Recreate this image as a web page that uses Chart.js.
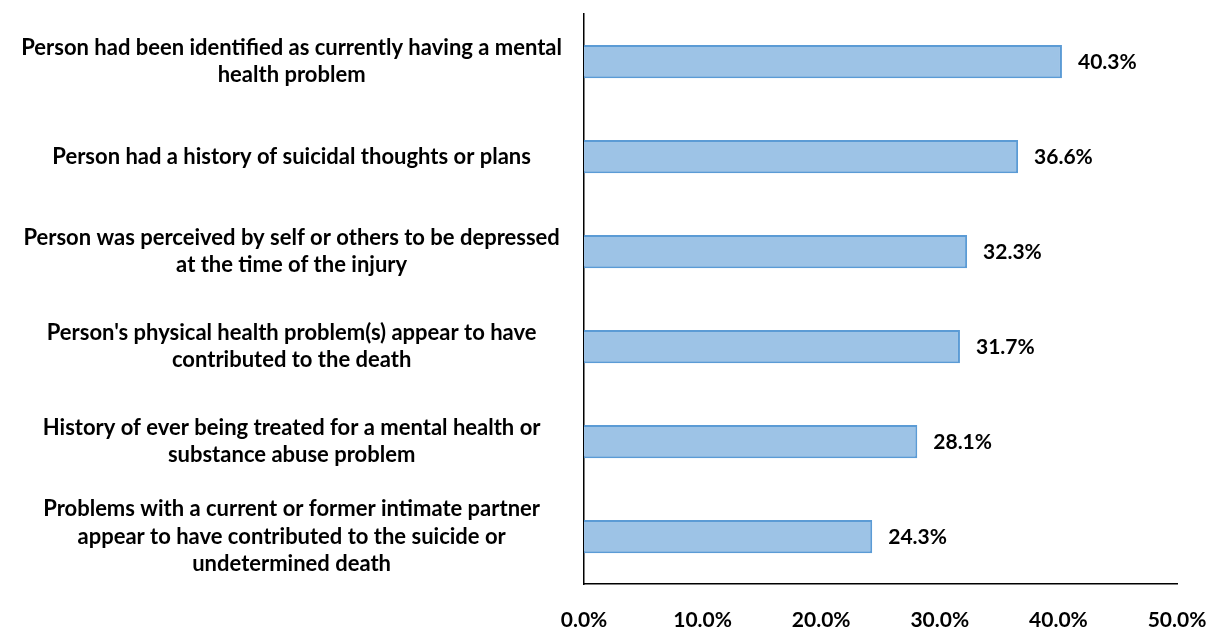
<!DOCTYPE html>
<html>
<head>
<meta charset="utf-8">
<script src="https://cdn.jsdelivr.net/npm/chart.js@4/dist/chart.umd.min.js"></script>
<style>
  html, body { margin: 0; padding: 0; background: #fff; }
  #wrap { width: 1214px; height: 627px; }
</style>
</head>
<body>
<div id="wrap"><canvas id="chart" width="1214" height="627"></canvas></div>
<script>
// data
const labels = [
  ['Person had been identified as currently having a mental', 'health problem'],
  'Person had a history of suicidal thoughts or plans',
  ['Person was perceived by self or others to be depressed', 'at the time of the injury'],
  ["Person's physical health problem(s) appear to have", 'contributed to the death'],
  ['History of ever being treated for a mental health or', 'substance abuse problem'],
  ['Problems with a current or former intimate partner', 'appear to have contributed to the suicide or', 'undetermined death']
];
const values = [40.3, 36.6, 32.3, 31.7, 28.1, 24.3];
const xTicks = [0, 10, 20, 30, 40, 50];

const FONT = 'Lato, "Liberation Sans", sans-serif';

// value labels at the end of each bar
const valueLabels = {
  id: 'valueLabels',
  afterDatasetsDraw(chart) {
    const ctx = chart.ctx;
    const meta = chart.getDatasetMeta(0);
    ctx.save();
    ctx.font = 'bold 21px ' + FONT;
    ctx.fillStyle = '#000';
    ctx.textAlign = 'left';
    ctx.textBaseline = 'middle';
    meta.data.forEach((bar, i) => {
      ctx.fillText(values[i].toFixed(1) + '%', bar.x + 16, bar.y + 1);
    });
    ctx.restore();
  }
};

new Chart(document.getElementById('chart').getContext('2d'), {
  type: 'bar',
  data: {
    labels,
    datasets: [{
      data: values,
      backgroundColor: '#9DC3E6',
      borderColor: '#5B9BD5',
      borderWidth: 2,
      barPercentage: 0.35,
      categoryPercentage: 1
    }]
  },
  options: {
    indexAxis: 'y',
    responsive: false,
    animation: false,
    layout: { padding: { top: 14, right: 37, left: 0, bottom: 0 } },
    plugins: { legend: { display: false }, tooltip: { enabled: false } },
    scales: {
      x: {
        min: 0, max: 50,
        afterBuildTicks: s => { s.ticks = xTicks.map(v => ({ value: v })); },
        afterFit: s => { s.height = 43; s.paddingLeft = 0; s.paddingRight = 0; },
        grid: { display: false, drawTicks: false },
        border: { display: true, color: '#000', width: 1.5 },
        ticks: {
          color: '#000', padding: 24,
          font: { family: FONT, size: 21, weight: 'bold' },
          callback: v => v.toFixed(1) + '%'
        }
      },
      y: {
        afterFit: s => { s.width = 584; s.paddingTop = 0; s.paddingBottom = 0; },
        grid: { display: false, drawTicks: false },
        border: { display: true, color: '#000', width: 1.5 },
        ticks: {
          color: '#000', padding: 22, crossAlign: 'center',
          font: { family: FONT, size: 22, weight: 'bold', lineHeight: 1.25 }
        }
      }
    }
  },
  plugins: [valueLabels]
});
</script>
</body>
</html>
